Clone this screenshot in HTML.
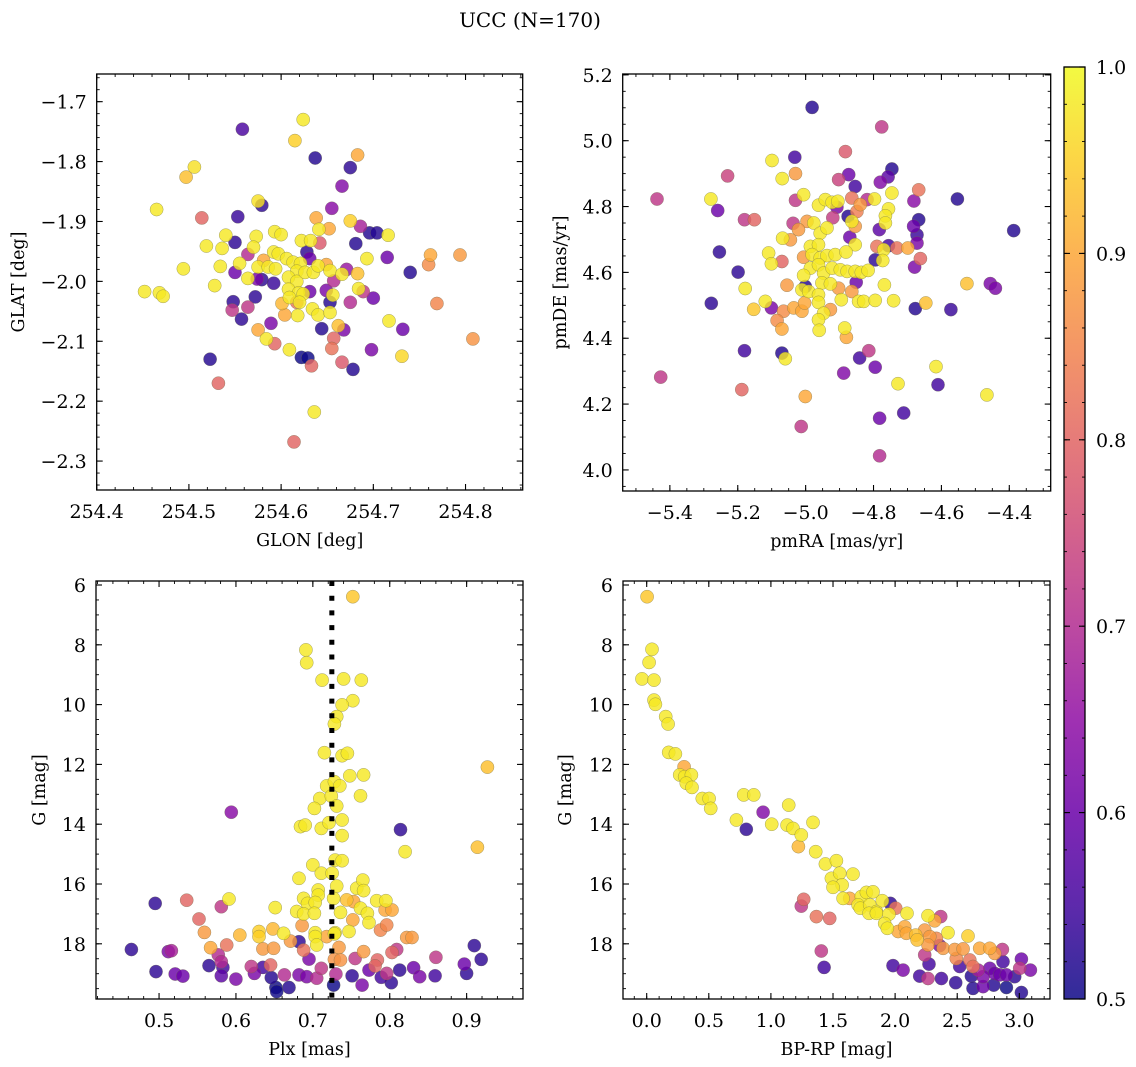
<!DOCTYPE html>
<html><head><meta charset="utf-8">
<style>
body{margin:0;background:#fff;}
svg{display:block;font-family:"DejaVu Serif","Liberation Serif",serif;}
</style></head>
<body>
<svg id="fig" width="1136" height="1067" viewBox="0 0 1136 1067" xmlns="http://www.w3.org/2000/svg">
<text x="530" y="27" font-size="20" text-anchor="middle">UCC (N=170)</text>
<g id="layer"></g>
</svg>
<script>
// ---- Panel 1: GLON / GLAT ----
const glon = [254.624,254.558,254.615,254.637,254.683,254.675,254.506,254.497,254.666,254.465,254.575,254.579,254.655,254.514,254.553,254.638,254.675,254.686,254.696,254.704,254.716,254.641,254.652,254.540,254.573,254.550,254.519,254.536,254.593,254.600,254.622,254.632,254.642,254.570,254.681,254.762,254.794,254.760,254.693,254.715,254.740,254.494,254.534,254.564,254.555,254.550,254.592,254.597,254.606,254.613,254.621,254.617,254.628,254.631,254.581,254.575,254.586,254.594,254.564,254.574,254.579,254.592,254.608,254.617,254.626,254.635,254.640,254.649,254.653,254.657,254.666,254.671,254.683,254.528,254.452,254.468,254.472,254.548,254.547,254.564,254.572,254.557,254.608,254.619,254.624,254.609,254.620,254.631,254.649,254.653,254.656,254.684,254.689,254.675,254.700,254.601,254.617,254.634,254.640,254.653,254.604,254.618,254.589,254.575,254.644,254.662,254.668,254.717,254.732,254.769,254.808,254.584,254.593,254.657,254.655,254.609,254.622,254.629,254.633,254.666,254.678,254.698,254.731,254.523,254.532,254.636,254.614];
const glat = [-1.730,-1.746,-1.765,-1.794,-1.789,-1.810,-1.809,-1.826,-1.841,-1.880,-1.866,-1.873,-1.878,-1.894,-1.892,-1.894,-1.899,-1.908,-1.919,-1.919,-1.923,-1.913,-1.912,-1.923,-1.925,-1.935,-1.941,-1.945,-1.917,-1.922,-1.932,-1.932,-1.936,-1.943,-1.937,-1.956,-1.956,-1.972,-1.962,-1.960,-1.985,-1.979,-1.975,-1.955,-1.970,-1.985,-1.951,-1.954,-1.962,-1.968,-1.970,-1.983,-1.951,-1.962,-1.965,-1.976,-1.976,-1.979,-1.995,-1.996,-1.997,-2.003,-1.993,-2.000,-1.985,-1.985,-1.974,-1.972,-1.982,-1.999,-1.988,-1.980,-1.987,-2.007,-2.017,-2.019,-2.025,-2.034,-2.048,-2.043,-2.026,-2.063,-2.013,-2.019,-2.021,-2.027,-2.035,-2.017,-2.015,-2.035,-2.023,-2.012,-2.017,-2.035,-2.028,-2.037,-2.035,-2.046,-2.056,-2.052,-2.056,-2.057,-2.070,-2.081,-2.079,-2.074,-2.081,-2.066,-2.080,-2.037,-2.096,-2.096,-2.104,-2.095,-2.112,-2.114,-2.127,-2.128,-2.141,-2.135,-2.147,-2.114,-2.125,-2.130,-2.170,-2.218,-2.268];
const prob1 = [.98,.56,.95,.52,.9,.53,.97,.93,.63,.98,.97,.53,.64,.8,.54,.9,.95,.68,.52,.52,.98,.98,.9,.98,.98,.53,.98,.98,.98,.98,.98,.98,.78,.98,.52,.9,.88,.86,.98,.6,.52,.98,.98,.7,.98,.6,.98,.98,.98,.98,.98,.98,.53,.6,.9,.98,.98,.98,.98,.62,.53,.54,.98,.98,.98,.98,.98,.9,.98,.7,.98,.66,.93,.98,.98,.98,.98,.53,.72,.72,.53,.53,.98,.98,.98,.98,.98,.6,.62,.52,.98,.98,.72,.7,.6,.92,.82,.98,.98,.98,.9,.98,.62,.9,.52,.93,.62,.98,.6,.85,.87,.98,.8,.8,.82,.98,.5,.5,.8,.78,.52,.62,.96,.52,.8,.98,.8];

// ---- Panel 2: pmRA / pmDE ----
const pmra = [-4.981,-4.776,-4.883,-5.032,-5.099,-5.230,-5.030,-5.069,-4.903,-4.873,-4.854,-4.746,-4.757,-4.780,-4.667,-5.438,-5.279,-4.553,-5.006,-5.030,-4.962,-4.942,-4.922,-4.905,-4.908,-4.864,-4.839,-4.819,-4.797,-4.746,-4.756,-4.681,-5.259,-5.180,-5.151,-4.387,-4.920,-4.875,-4.864,-4.849,-4.854,-4.765,-4.765,-4.783,-4.667,-4.682,-4.672,-4.672,-5.037,-4.996,-4.976,-5.021,-4.957,-4.937,-5.068,-5.045,-4.870,-4.854,-5.254,-5.109,-5.101,-5.070,-4.986,-4.962,-5.006,-4.981,-4.957,-4.937,-4.913,-4.881,-4.790,-4.756,-4.770,-4.795,-4.773,-4.731,-4.699,-4.662,-4.679,-5.199,-4.986,-4.962,-4.947,-4.922,-4.898,-4.878,-4.854,-4.836,-4.816,-5.001,-5.006,-5.055,-5.178,-4.952,-4.927,-4.903,-4.851,-4.768,-4.525,-4.456,-4.441,-5.278,-5.119,-5.101,-5.153,-5.065,-5.084,-5.070,-5.035,-5.011,-5.003,-5.011,-4.991,-4.962,-4.962,-4.947,-4.927,-4.895,-4.864,-4.844,-4.829,-4.795,-4.741,-4.646,-4.677,-4.572,-4.962,-4.960,-4.885,-4.880,-5.180,-5.070,-5.060,-4.814,-4.841,-4.795,-4.888,-4.616,-4.610,-4.728,-4.466,-5.427,-5.188,-5.001,-4.711,-4.782,-5.013,-4.782];
const pmde = [5.101,5.042,4.967,4.950,4.940,4.893,4.900,4.885,4.882,4.897,4.861,4.914,4.890,4.874,4.851,4.823,4.823,4.823,4.836,4.819,4.804,4.821,4.813,4.816,4.798,4.826,4.806,4.821,4.823,4.841,4.793,4.817,4.788,4.760,4.760,4.727,4.766,4.770,4.755,4.785,4.740,4.772,4.750,4.730,4.760,4.740,4.714,4.689,4.749,4.755,4.750,4.730,4.719,4.735,4.704,4.699,4.707,4.684,4.662,4.659,4.626,4.633,4.679,4.684,4.646,4.654,4.644,4.651,4.654,4.662,4.679,4.681,4.669,4.638,4.636,4.674,4.674,4.642,4.616,4.601,4.613,4.623,4.598,4.613,4.608,4.603,4.603,4.600,4.606,4.557,4.591,4.561,4.551,4.568,4.565,4.552,4.570,4.562,4.566,4.566,4.552,4.506,4.512,4.492,4.488,4.482,4.454,4.428,4.492,4.482,4.507,4.547,4.542,4.532,4.509,4.476,4.487,4.517,4.542,4.512,4.512,4.515,4.514,4.507,4.490,4.487,4.456,4.424,4.431,4.403,4.362,4.355,4.338,4.362,4.340,4.312,4.294,4.314,4.259,4.262,4.228,4.282,4.244,4.223,4.173,4.157,4.132,4.043];
const prob2 = [.52,.72,.78,.55,.98,.74,.88,.98,.74,.6,.55,.52,.58,.63,.82,.72,.98,.52,.98,.72,.98,.98,.98,.98,.62,.82,.88,.7,.98,.98,.98,.64,.6,.72,.8,.52,.73,.52,.98,.84,.88,.98,.98,.58,.52,.6,.54,.62,.72,.88,.98,.88,.98,.98,.98,.88,.6,.98,.53,.98,.98,.8,.98,.98,.88,.98,.98,.98,.98,.98,.82,.55,.98,.53,.98,.82,.9,.8,.62,.53,.98,.98,.98,.98,.98,.98,.98,.98,.98,.52,.98,.88,.98,.98,.98,.88,.6,.98,.93,.62,.62,.53,.98,.62,.94,.86,.86,.9,.9,.9,.9,.98,.98,.98,.98,.98,.88,.98,.88,.98,.98,.98,.98,.93,.52,.54,.98,.98,.98,.9,.55,.52,.98,.72,.55,.6,.63,.98,.55,.98,.98,.72,.8,.9,.55,.6,.72,.7];

// ---- Panel 3: Plx / G ----
const plx = [0.752,0.691,0.692,0.712,0.740,0.763,0.752,0.738,0.731,0.728,0.715,0.738,0.745,0.748,0.766,0.927,0.718,0.728,0.735,0.709,0.724,0.762,0.702,0.731,0.594,0.684,0.690,0.711,0.721,0.738,0.738,0.814,0.914,0.820,0.729,0.738,0.700,0.711,0.682,0.725,0.731,0.707,0.707,0.757,0.765,0.766,0.591,0.688,0.693,0.703,0.727,0.744,0.753,0.762,0.783,0.795,0.794,0.803,0.651,0.679,0.688,0.702,0.736,0.771,0.773,0.752,0.686,0.703,0.729,0.747,0.788,0.796,0.495,0.536,0.581,0.552,0.559,0.605,0.630,0.630,0.648,0.662,0.671,0.682,0.703,0.705,0.718,0.728,0.822,0.829,0.567,0.588,0.635,0.649,0.688,0.734,0.766,0.803,0.809,0.784,0.781,0.728,0.736,0.464,0.512,0.516,0.577,0.581,0.583,0.565,0.496,0.521,0.531,0.581,0.600,0.620,0.624,0.635,0.645,0.646,0.652,0.653,0.663,0.669,0.682,0.692,0.695,0.705,0.711,0.730,0.727,0.751,0.755,0.764,0.773,0.789,0.796,0.802,0.813,0.831,0.839,0.859,0.860,0.897,0.900,0.910,0.919];
const gmag3 = [6.39,8.17,8.60,9.18,9.14,9.18,9.87,10.01,10.40,10.65,11.61,11.71,11.63,12.38,12.35,12.09,12.72,12.58,12.72,13.14,13.06,13.05,13.47,13.39,13.60,14.08,14.03,14.14,13.95,13.86,14.38,14.18,14.77,14.92,15.20,15.22,15.36,15.64,15.81,15.64,16.07,16.20,16.37,16.14,15.87,16.22,16.50,16.48,16.65,16.62,16.48,16.53,16.59,16.81,16.56,16.56,16.87,16.87,16.79,16.92,17.00,16.98,16.95,16.98,17.29,17.20,17.39,17.63,17.63,17.59,17.54,17.37,16.65,16.54,16.76,17.17,17.62,17.71,17.59,17.76,17.50,17.65,17.91,17.93,17.76,18.04,17.76,17.67,17.79,17.79,18.13,18.04,18.17,18.15,18.21,18.12,18.26,18.29,18.19,18.54,18.74,18.52,18.54,18.19,18.26,18.23,18.37,18.60,18.79,18.73,18.93,19.01,19.08,19.07,19.18,18.76,18.99,18.79,18.71,19.13,19.46,19.60,19.04,19.46,19.04,19.10,18.51,19.15,18.82,19.01,19.38,19.07,18.49,19.38,18.88,19.12,18.99,19.30,18.88,18.80,19.10,19.07,18.45,18.68,18.99,18.06,18.52];
const prob3 = [.94,.98,.98,.98,.98,.98,.98,.98,.98,.98,.98,.98,.98,.98,.98,.93,.98,.98,.98,.98,.98,.98,.98,.98,.64,.98,.98,.98,.98,.98,.98,.53,.93,.98,.98,.98,.98,.98,.98,.98,.98,.98,.98,.98,.98,.98,.98,.98,.98,.98,.98,.93,.9,.98,.98,.98,.9,.9,.98,.98,.98,.98,.98,.98,.98,.9,.88,.98,.98,.98,.85,.85,.53,.8,.72,.8,.88,.92,.95,.95,.92,.98,.88,.53,.98,.98,.9,.98,.88,.88,.9,.82,.88,.88,.82,.88,.88,.8,.72,.8,.8,.87,.87,.53,.62,.68,.7,.7,.55,.53,.53,.6,.6,.58,.62,.72,.62,.55,.8,.52,.5,.5,.7,.52,.62,.62,.62,.7,.72,.7,.5,.53,.72,.62,.6,.55,.72,.53,.53,.6,.62,.55,.72,.6,.53,.53,.53];

// ---- Panel 4: BP-RP / G ----
const bprp = [0.003,0.043,0.019,-0.038,0.059,0.059,0.070,0.153,0.172,0.177,0.231,0.301,0.266,0.306,0.360,0.319,0.365,0.448,0.502,0.515,0.781,0.862,0.937,0.722,0.802,1.006,1.143,1.130,1.178,1.245,1.339,1.221,1.361,1.439,1.527,1.487,1.554,1.573,1.661,1.500,1.264,1.245,1.366,1.473,1.406,1.428,1.581,1.634,1.728,1.769,1.822,1.702,1.720,1.795,1.849,1.897,1.962,2.005,1.790,1.849,1.951,1.916,1.937,2.096,2.024,2.077,2.091,2.166,2.177,2.265,2.319,2.367,2.238,2.279,2.265,2.332,2.426,2.587,2.386,2.480,2.359,2.547,2.493,2.601,2.627,2.681,2.762,2.802,2.864,2.869,3.017,3.003,3.089,2.238,2.273,1.983,2.064,2.198,2.265,2.373,2.488,2.520,2.614,2.627,2.668,2.708,2.762,2.802,2.842,2.896,2.708,2.794,2.896,2.963,3.017];
const gmag4 = [6.39,8.15,8.59,9.14,9.18,9.85,9.99,10.40,10.65,11.60,11.65,12.08,12.35,12.41,12.35,12.63,12.77,13.14,13.14,13.47,13.02,13.02,13.60,13.86,14.17,14.00,13.36,14.03,14.14,14.36,13.94,14.75,14.92,15.33,15.22,15.81,15.64,16.03,15.67,16.11,16.51,16.74,17.09,17.15,18.24,18.79,16.48,16.48,16.42,16.28,16.26,16.70,16.81,16.70,16.92,16.56,16.65,16.81,16.98,16.98,17.01,17.32,17.48,16.98,17.59,17.43,17.65,17.71,17.87,17.06,17.23,17.09,17.54,17.76,18.04,17.82,17.63,17.74,18.15,18.19,18.06,18.17,18.49,18.54,18.76,18.15,18.15,18.32,18.19,18.60,18.51,18.82,18.88,18.37,18.68,18.73,18.88,19.08,19.16,19.16,19.30,18.76,19.08,19.49,18.88,19.10,18.82,18.99,19.04,19.04,19.43,19.38,19.46,19.10,19.63];
const prob4 = [.94,.98,.98,.98,.98,.98,.98,.98,.98,.98,.98,.9,.98,.98,.98,.98,.98,.98,.98,.98,.98,.98,.63,.98,.53,.98,.98,.98,.98,.98,.98,.92,.98,.98,.98,.98,.98,.98,.98,.98,.8,.72,.82,.8,.72,.55,.98,.9,.98,.98,.98,.98,.98,.98,.98,.98,.53,.82,.98,.98,.98,.98,.98,.98,.9,.9,.9,.93,.93,.98,.9,.72,.88,.88,.88,.85,.98,.95,.88,.88,.62,.88,.85,.82,.82,.9,.9,.88,.72,.55,.6,.72,.62,.72,.55,.55,.62,.55,.72,.55,.53,.55,.52,.52,.68,.62,.6,.6,.6,.6,.6,.52,.5,.53,.52];

// ---- Tick labels ----
const p1xTicks = [254.4,254.5,254.6,254.7,254.8];
const p1yTicks = [-1.7,-1.8,-1.9,-2.0,-2.1,-2.2,-2.3];
const p2xTicks = [-5.4,-5.2,-5.0,-4.8,-4.6,-4.4];
const p2yTicks = [4.0,4.2,4.4,4.6,4.8,5.0,5.2];
const p3xTicks = [0.5,0.6,0.7,0.8,0.9];
const gTicks = [6,8,10,12,14,16,18];
const p4xTicks = [0.0,0.5,1.0,1.5,2.0,2.5,3.0];
const cbTicks = [0.5,0.6,0.7,0.8,0.9,1.0];
const plxLine = 0.7247;

const NS = 'http://www.w3.org/2000/svg';
const layer = document.getElementById('layer');
function mk(tag, attrs, parent) {
  const e = document.createElementNS(NS, tag);
  for (const k in attrs) e.setAttribute(k, attrs[k]);
  (parent || layer).appendChild(e);
  return e;
}
const stops = ['#0d0887','#41049d','#6a00a8','#8f0da4','#b12a90','#cc4778','#e16462','#f2844b','#fca636','#fcce25','#f0f921'];
function hex(h){return [parseInt(h.substr(1,2),16),parseInt(h.substr(3,2),16),parseInt(h.substr(5,2),16)];}
function plasma(t){
  t=Math.max(0,Math.min(1,t));
  const f=t*10, i=Math.min(9,Math.floor(f)), u=f-i;
  const a=hex(stops[i]), b=hex(stops[i+1]);
  return 'rgb('+a.map((v,k)=>Math.round(v+(b[k]-v)*u)).join(',')+')';
}
function fmt(v, d){ const s=Math.abs(v).toFixed(d); return (v<0?'\u2212':'')+s; }

function panel(cfg){
  const {name,x0,x1,y0,y1,xd,yd} = cfg;
  const sx = v => x0 + (v-xd[0])/(xd[1]-xd[0])*(x1-x0);
  const sy = v => y0 + (v-yd[0])/(yd[1]-yd[0])*(y1-y0);
  const g = mk('g',{});
  
  
  const clipId = 'clip-'+name;
  const cp = mk('clipPath',{id:clipId}, g);
  mk('rect',{x:x0,y:y0,width:x1-x0,height:y1-y0},cp);
  const pts = mk('g',{'clip-path':'url(#'+clipId+')'}, g);
  
  
  const idx = cfg.xs.map((_,i)=>i).sort((a,b)=>cfg.ps[a]-cfg.ps[b]);
  idx.forEach(i=>{
    const c = mk('circle',{cx:sx(cfg.xs[i]).toFixed(1),cy:sy(cfg.ys[i]).toFixed(1),r:6.6,fill:plasma((cfg.ps[i]-0.5)/0.5),'fill-opacity':0.82,stroke:'#6b6b4a','stroke-width':0.5,'stroke-opacity':0.6},pts);
    
    
  });
  if (cfg.vline!==undefined){
    const l = mk('line',{x1:sx(cfg.vline),x2:sx(cfg.vline),y1:y0,y2:y1,stroke:'#000','stroke-width':5,'stroke-dasharray':'5 9.7'},g);
    
    
  }
  const fr = mk('rect',{x:x0,y:y0,width:x1-x0,height:y1-y0,fill:'none',stroke:'#000','stroke-width':1.3},g);
  
  
  const ax = mk('g',{},g);
  
  
  for(let v=Math.ceil(xd[0]/cfg.xminor)*cfg.xminor; v<=xd[1]; v+=cfg.xminor){
    const X=sx(v); if(X<x0||X>x1) continue;
    mk('line',{x1:X,x2:X,y1:y1,y2:y1-3,stroke:'#000','stroke-width':0.9},ax);
    mk('line',{x1:X,x2:X,y1:y0,y2:y0+3,stroke:'#000','stroke-width':0.9},ax);
  }
  cfg.xt.forEach(v=>{
    const X=sx(v);
    mk('line',{x1:X,x2:X,y1:y1,y2:y1-6,stroke:'#000','stroke-width':1.1},ax);
    mk('line',{x1:X,x2:X,y1:y0,y2:y0+6,stroke:'#000','stroke-width':1.1},ax);
    const t=mk('text',{x:X,y:y1+28,'font-size':19,'text-anchor':'middle'},ax);
    t.textContent=fmt(v,cfg.xdec);
  });
  const ay = mk('g',{},g);
  
  
  const ylo=Math.min(yd[0],yd[1]), yhi=Math.max(yd[0],yd[1]);
  for(let v=Math.ceil(ylo/cfg.yminor)*cfg.yminor; v<=yhi; v+=cfg.yminor){
    const Y=sy(v); if(Y<y0||Y>y1) continue;
    mk('line',{x1:x0,x2:x0+3,y1:Y,y2:Y,stroke:'#000','stroke-width':0.9},ay);
    mk('line',{x1:x1,x2:x1-3,y1:Y,y2:Y,stroke:'#000','stroke-width':0.9},ay);
  }
  cfg.yt.forEach(v=>{
    const Y=sy(v);
    mk('line',{x1:x0,x2:x0+6,y1:Y,y2:Y,stroke:'#000','stroke-width':1.1},ay);
    mk('line',{x1:x1,x2:x1-6,y1:Y,y2:Y,stroke:'#000','stroke-width':1.1},ay);
    const t=mk('text',{x:x0-10,y:Y+7,'font-size':19,'text-anchor':'end'},ay);
    t.textContent=fmt(v,cfg.ydec);
  });
  const xl=mk('text',{x:(x0+x1)/2,y:y1+56,'font-size':17.5,'text-anchor':'middle'},g);
  
  
  xl.textContent=cfg.xlabel;
  const yx=cfg.ylabx, yy=(y0+y1)/2;
  const yl=mk('text',{x:yx,y:yy,'font-size':17.5,'text-anchor':'middle',transform:'rotate(-90 '+yx+' '+yy+')'},g);
  
  
  yl.textContent=cfg.ylabel;
}

panel({name:'glon-glat',x0:96.7,x1:522.7,y0:74,y1:490,xd:[254.4,254.862],yd:[-1.6538,-2.3483],
  xs:glon,ys:glat,ps:prob1,xt:p1xTicks,yt:p1yTicks,xminor:0.02,yminor:0.02,xdec:1,ydec:1,
  xlabel:'GLON [deg]',ylabel:'GLAT [deg]',ylabx:24});
panel({name:'pm',x0:622.7,x1:1050.7,y0:74,y1:491,xd:[-5.539,-4.278],yd:[5.2026,3.936],
  xs:pmra,ys:pmde,ps:prob2,xt:p2xTicks,yt:p2yTicks,xminor:0.05,yminor:0.05,xdec:1,ydec:1,
  xlabel:'pmRA [mas/yr]',ylabel:'pmDE [mas/yr]',ylabx:566});
panel({name:'plx-g',x0:96,x1:523,y0:581,y1:999,xd:[0.418,0.9733],yd:[5.866,19.846],
  xs:plx,ys:gmag3,ps:prob3,xt:p3xTicks,yt:gTicks,xminor:0.02,yminor:0.5,xdec:1,ydec:0,
  xlabel:'Plx [mas]',ylabel:'G [mag]',ylabx:45,vline:plxLine});
panel({name:'cmd',x0:623,x1:1050,y0:581,y1:999,xd:[-0.1908,3.247],yd:[5.866,19.846],
  xs:bprp,ys:gmag4,ps:prob4,xt:p4xTicks,yt:gTicks,xminor:0.1,yminor:0.5,xdec:1,ydec:0,
  xlabel:'BP-RP [mag]',ylabel:'G [mag]',ylabx:571});

(function(){
  const cx0=1064, cx1=1085, cy0=67, cy1=999;
  const svg=document.getElementById('fig');
  const defs=mk('defs',{},svg);
  const lg=mk('linearGradient',{id:'plasmaGrad',x1:0,y1:1,x2:0,y2:0},defs);
  for(let i=0;i<=20;i++){ mk('stop',{offset:(i/20),'stop-color':plasma(i/20)},lg); }
  const cb=mk('g',{});
  
  
  mk('rect',{x:cx0,y:cy0,width:cx1-cx0,height:cy1-cy0,fill:'url(#plasmaGrad)','fill-opacity':0.85},cb);
  mk('rect',{x:cx0,y:cy0,width:cx1-cx0,height:cy1-cy0,fill:'none',stroke:'#000','stroke-width':1.3},cb);
  const sy=v=>cy1-(v-0.5)/0.5*(cy1-cy0);
  for(let k=0;k<=25;k++){ const Y=sy(0.5+k*0.02);
    mk('line',{x1:cx1,x2:cx1-3,y1:Y,y2:Y,stroke:'#000','stroke-width':0.9},cb);
    mk('line',{x1:cx0,x2:cx0+3,y1:Y,y2:Y,stroke:'#000','stroke-width':0.9},cb); }
  cbTicks.forEach(v=>{ const Y=sy(v);
    mk('line',{x1:cx1,x2:cx1-6,y1:Y,y2:Y,stroke:'#000','stroke-width':1.1},cb);
    mk('line',{x1:cx0,x2:cx0+6,y1:Y,y2:Y,stroke:'#000','stroke-width':1.1},cb);
    const t=mk('text',{x:cx1+11,y:Y+7,'font-size':19},cb);
    
    
    t.textContent=v.toFixed(1); });
})();
</script>
</body></html>
